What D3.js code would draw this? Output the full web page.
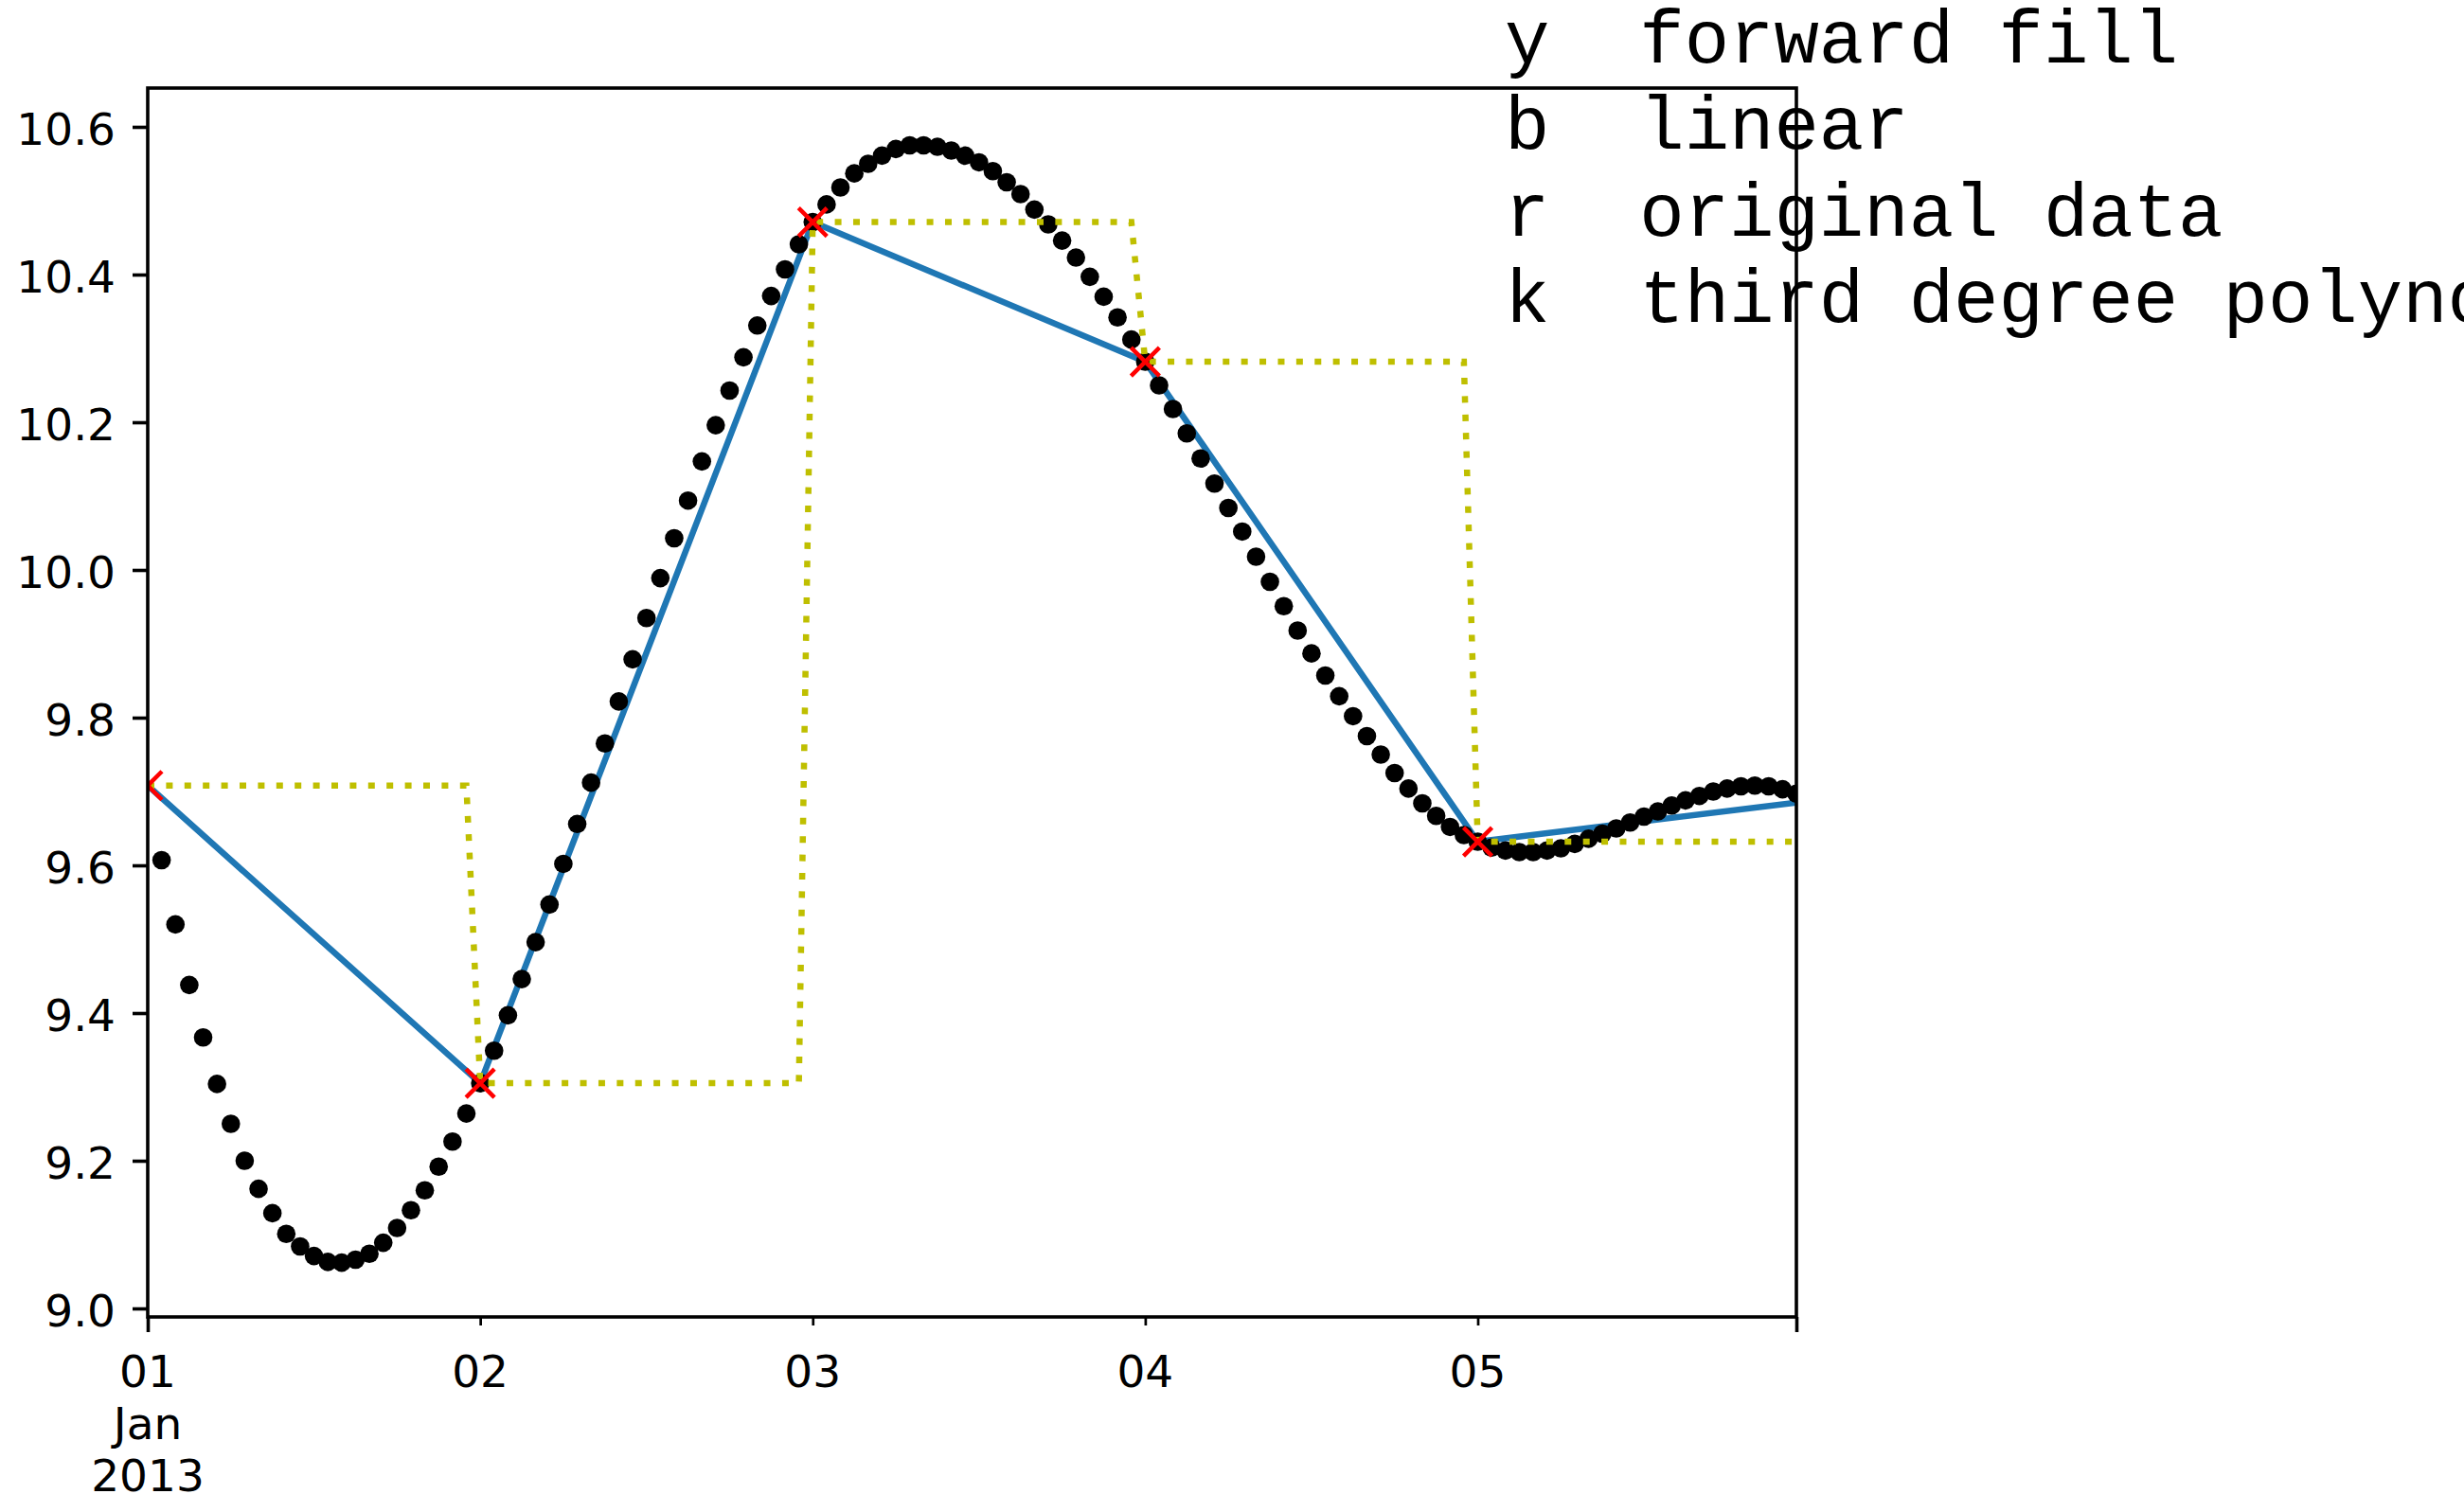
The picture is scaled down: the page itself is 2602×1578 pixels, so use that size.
<!DOCTYPE html>
<html><head><meta charset="utf-8">
<script src="https://cdn.jsdelivr.net/npm/d3@7"></script>
<style>body{margin:0;background:#fff;} svg{display:block;background:#fff;}</style>
</head><body>
<svg id="chart" width="2602" height="1578"></svg>
<script>
// ---------- data ----------
const originalDates = ["2013-01-01T00:00:00Z","2013-01-02T00:00:00Z","2013-01-03T00:00:00Z","2013-01-04T00:00:00Z","2013-01-05T00:00:00Z"];
const originalValues = [9.708, 9.305, 10.471, 10.282, 9.632];
const linearDates = ["2013-01-01T00:00:00Z","2013-01-02T00:00:00Z","2013-01-03T00:00:00Z","2013-01-04T00:00:00Z","2013-01-05T00:00:00Z","2013-01-05T23:00:00Z"];
const linearValues = [9.708, 9.305, 10.471, 10.282, 9.632, 9.685];
const polyStart = "2013-01-01T00:00:00Z";   // hourly values
const polyValues = [null,
  9.607, 9.520, 9.438, 9.367, 9.304, 9.250, 9.200, 9.162, 9.129, 9.101,
  9.084, 9.071, 9.063, 9.062, 9.066, 9.074, 9.089, 9.109, 9.133, 9.160,
  9.192, 9.226, 9.264, 9.305, 9.349, 9.397, 9.446, 9.496, 9.547, 9.602,
  9.656, 9.712, 9.765, 9.822, 9.879, 9.935, 9.989, 10.043, 10.094, 10.147,
  10.196, 10.243, 10.288, 10.331, 10.371, 10.407, 10.441, 10.471, 10.495, 10.518,
  10.537, 10.550, 10.561, 10.570, 10.575, 10.575, 10.573, 10.568, 10.561, 10.552,
  10.540, 10.525, 10.509, 10.488, 10.468, 10.446, 10.423, 10.397, 10.370, 10.342,
  10.312, 10.282, 10.250, 10.218, 10.185, 10.151, 10.117, 10.084, 10.052, 10.018,
  9.984, 9.951, 9.918, 9.887, 9.857, 9.829, 9.802, 9.775, 9.750, 9.725,
  9.704, 9.684, 9.667, 9.652, 9.641, 9.632, 9.624, 9.620, 9.618, 9.618,
  9.620, 9.623, 9.629, 9.636, 9.643, 9.650, 9.658, 9.666, 9.673, 9.681,
  9.688, 9.694, 9.700, 9.704, 9.707, 9.708, 9.707, 9.703, 9.697];
const yTickValues = [9.0, 9.2, 9.4, 9.6, 9.8, 10.0, 10.2, 10.4, 10.6];
const xDayLabels = ["01", "02", "03", "04", "05"];
const xMajorExtraLines = ["Jan", "2013"];
const legendLines = ["y  forward fill", "b  linear", "r  original data", "k  third degree polynomial"];

// ---------- setup ----------
const svg = d3.select("#chart");
const parse = d3.isoParse;
const origD = originalDates.map(parse);
const start = parse(polyStart);
const end = d3.utcHour.offset(start, polyValues.length - 1);

const L = 156, R = 1897, T = 93, B = 1391;
const x = d3.scaleUtc().domain([start, end]).range([L, R]);
const y = d3.scaleLinear().domain([8.98846, 10.65256]).range([B, T]);

svg.append("defs").append("clipPath").attr("id", "clip")
  .append("rect").attr("x", L).attr("y", T).attr("width", R - L).attr("height", B - T);
const plot = svg.append("g").attr("clip-path", "url(#clip)");

// linear (blue)
const linearPts = linearDates.map((d, i) => [parse(d), linearValues[i]]);
plot.append("path").datum(linearPts)
  .attr("d", d3.line().x(d => x(d[0])).y(d => y(d[1])))
  .attr("fill", "none").attr("stroke", "#1f77b4").attr("stroke-width", 6.5)
  .attr("stroke-linejoin", "round");

// polynomial dots (black)
const polyPts = polyValues.map((v, i) => [d3.utcHour.offset(start, i), v]).filter(d => d[1] != null);
plot.append("g").selectAll("circle").data(polyPts).join("circle")
  .attr("cx", d => x(d[0])).attr("cy", d => y(d[1])).attr("r", 9.8).attr("fill", "#000");

// forward fill (yellow dotted) built from original data
const ffPts = [];
origD.forEach((d, i) => {
  ffPts.push([d, originalValues[i]]);
  const e = d3.utcHour.offset(d, 23);
  ffPts.push([e > end ? end : e, originalValues[i]]);
});
plot.append("path").datum(ffPts)
  .attr("d", d3.line().x(d => x(d[0])).y(d => y(d[1])))
  .attr("fill", "none").attr("stroke", "#bfbf00").attr("stroke-width", 6.5)
  .attr("stroke-dasharray", "7 12.4");

// original data (red x)
const s = 15;
plot.append("g").selectAll("path").data(origD.map((d, i) => [d, originalValues[i]])).join("path")
  .attr("d", d => {
    const cx = x(d[0]), cy = y(d[1]);
    return `M${cx - s},${cy - s}L${cx + s},${cy + s}M${cx - s},${cy + s}L${cx + s},${cy - s}`;
  })
  .attr("stroke", "#ff0000").attr("stroke-width", 4.5).attr("fill", "none");

// ---------- axes ----------
const font = "'DejaVu Sans', sans-serif";
const yAxis = svg.append("g").attr("transform", `translate(${L},0)`)
  .call(d3.axisLeft(y).tickValues(yTickValues).tickSize(16).tickPadding(18).tickFormat(d3.format(".1f")));
yAxis.select(".domain").remove();
yAxis.selectAll(".tick line").attr("stroke", "#000").attr("stroke-width", 3.6);
yAxis.selectAll(".tick text").attr("font-family", font).attr("font-size", 47).attr("fill", "#000").attr("dy", "0.39em");

const minorDays = origD.slice(1);
const xMinor = svg.append("g").attr("transform", `translate(0,${B})`)
  .call(d3.axisBottom(x).tickValues(minorDays).tickSize(9).tickFormat(""));
xMinor.select(".domain").remove();
xMinor.selectAll(".tick line").attr("stroke", "#000").attr("stroke-width", 2.7);

const xMajor = svg.append("g").attr("transform", `translate(0,${B})`)
  .call(d3.axisBottom(x).tickValues([start, end]).tickSize(16).tickFormat(""));
xMajor.select(".domain").remove();
xMajor.selectAll(".tick line").attr("stroke", "#000").attr("stroke-width", 3.6);

const xl = svg.append("g").attr("font-family", font).attr("font-size", 47).attr("fill", "#000").attr("text-anchor", "middle");
xl.selectAll("text.day").data(origD).join("text").attr("class", "day")
  .attr("x", d => x(d)).attr("y", 1465).text((d, i) => xDayLabels[i]);
xl.selectAll("text.extra").data(xMajorExtraLines).join("text").attr("class", "extra")
  .attr("x", x(origD[0])).attr("y", (d, i) => 1520 + i * 55).text(d => d);

// spines
svg.append("rect").attr("x", L).attr("y", T).attr("width", R - L).attr("height", B - T)
  .attr("fill", "none").attr("stroke", "#000").attr("stroke-width", 3.6);

// ---------- legend text ----------
svg.append("g").attr("font-family", "'Liberation Mono', monospace").attr("font-size", 79).attr("fill", "#000")
  .selectAll("text").data(legendLines).join("text")
  .attr("x", 1589).attr("y", (d, i) => 66 + i * 91.3)
  .style("white-space", "pre").attr("xml:space", "preserve").text(d => d);
</script>
</body></html>
